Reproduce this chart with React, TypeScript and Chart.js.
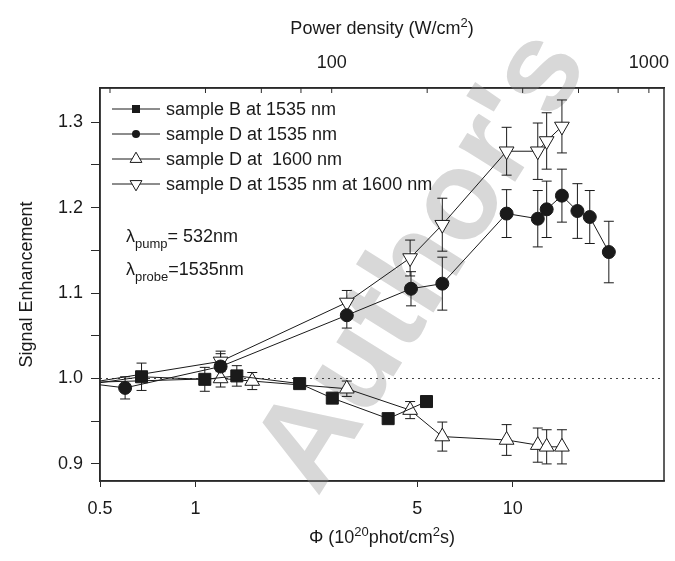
import React, { useEffect, useRef } from "react";
import { Chart, registerables } from "chart.js";

Chart.register(...registerables);

const FONT = '"Liberation Sans", Arial, Helvetica, sans-serif';
const INK = "#1a1a1a";
const FRAME = "#2a2a2a";

// ---- axes ----
const X_MIN = 0.5;
const X_MAX = 30;
const X_TICKS = [0.5, 1, 5, 10];
const X_TICK_LABELS = ["0.5", "1", "5", "10"];

// top axis: power density (W/cm^2) = PHI_TO_POWER * phi
const PHI_TO_POWER = 37.2;
const TOP_TICKS = [20, 40, 60, 80, 100, 200, 400, 600, 800, 1000];
const TOP_TICK_LABELS = ["", "", "", "", "100", "", "", "", "", "1000"];

const Y_MIN = 0.88;
const Y_MAX = 1.34;
const Y_TICKS = [0.9, 0.95, 1.0, 1.05, 1.1, 1.15, 1.2, 1.25, 1.3];
const Y_TICK_LABELS = ["0.9", "", "1.0", "", "1.1", "", "1.2", "", "1.3"];
const REFERENCE_LEVEL = 1.0;

// ---- data (first point of each series lies just left of the visible range) ----
const sampleB_phi = [0.42, 0.676, 1.07, 1.35, 2.13, 2.7, 4.05, 5.35];
const sampleB_signal = [0.991, 1.002, 0.999, 1.003, 0.994, 0.977, 0.953, 0.973];
const sampleB_err = [0, 0.016, 0.014, 0.012, 0, 0, 0, 0];

const sampleD1535_phi = [0.42, 0.6, 1.2, 3.0, 4.78, 6.0, 9.57, 12.0, 12.8, 14.3, 16.0, 17.5, 20.1];
const sampleD1535_signal = [0.996, 0.989, 1.014, 1.074, 1.105, 1.111, 1.193, 1.187, 1.198, 1.214, 1.196, 1.189, 1.148];
const sampleD1535_err = [0, 0.013, 0.015, 0.015, 0.02, 0.031, 0.028, 0.033, 0.033, 0.031, 0.032, 0.031, 0.036];

const sampleD1600_phi = [0.42, 1.2, 1.51, 3.0, 4.75, 6.0, 9.57, 12.0, 12.8, 14.3];
const sampleD1600_signal = [0.995, 1.0, 0.997, 0.988, 0.963, 0.932, 0.928, 0.922, 0.92, 0.92];
const sampleD1600_err = [0, 0.01, 0.01, 0.009, 0.01, 0.017, 0.018, 0.02, 0.02, 0.02];

const sampleD1535at1600_phi = [0.42, 1.2, 3.0, 4.75, 6.0, 9.57, 12.0, 12.8, 14.3];
const sampleD1535at1600_signal = [0.9925, 1.02, 1.089, 1.141, 1.18, 1.266, 1.266, 1.278, 1.295];
const sampleD1535at1600_err = [0, 0.012, 0.014, 0.021, 0.031, 0.028, 0.033, 0.033, 0.031];

const LEGEND_LABELS = [
  "sample B at 1535 nm",
  "sample D at 1535 nm",
  "sample D at  1600 nm",
  "sample D at 1535 nm at 1600 nm",
];

type Marker = "square" | "circle" | "up" | "down";

const SERIES: { phi: number[]; signal: number[]; err: number[]; marker: Marker; label: string }[] = [
  { phi: sampleB_phi, signal: sampleB_signal, err: sampleB_err, marker: "square", label: LEGEND_LABELS[0] },
  { phi: sampleD1535_phi, signal: sampleD1535_signal, err: sampleD1535_err, marker: "circle", label: LEGEND_LABELS[1] },
  { phi: sampleD1600_phi, signal: sampleD1600_signal, err: sampleD1600_err, marker: "up", label: LEGEND_LABELS[2] },
  { phi: sampleD1535at1600_phi, signal: sampleD1535at1600_signal, err: sampleD1535at1600_err, marker: "down", label: LEGEND_LABELS[3] },
];

type Part = { t: string; sup?: boolean; sub?: boolean };

function drawRich(ctx: CanvasRenderingContext2D, parts: Part[], x: number, cy: number, size: number, align: "left" | "center") {
  const main = `${size}px ${FONT}`;
  const small = `${Math.round(size * 0.7)}px ${FONT}`;
  let total = 0;
  const widths = parts.map((p) => {
    ctx.font = p.sup || p.sub ? small : main;
    const w = ctx.measureText(p.t).width;
    total += w;
    return w;
  });
  let cx = align === "center" ? x - total / 2 : x;
  const base = cy + size * 0.36;
  ctx.textAlign = "left";
  ctx.textBaseline = "alphabetic";
  parts.forEach((p, i) => {
    ctx.font = p.sup || p.sub ? small : main;
    const dy = p.sup ? -size * 0.4 : p.sub ? size * 0.32 : 0;
    ctx.fillText(p.t, cx, base + dy);
    cx += widths[i];
  });
}

function drawMarker(ctx: CanvasRenderingContext2D, m: Marker, x: number, y: number, s: number) {
  ctx.beginPath();
  if (m === "square") {
    ctx.rect(x - s * 0.5, y - s * 0.5, s, s);
    ctx.fillStyle = INK;
    ctx.fill();
  } else if (m === "circle") {
    ctx.arc(x, y, s * 0.5, 0, Math.PI * 2);
    ctx.fillStyle = INK;
    ctx.fill();
  } else {
    const r = s * 0.62;
    const dir = m === "up" ? -1 : 1;
    ctx.moveTo(x, y + dir * r);
    ctx.lineTo(x + r * 0.866, y - dir * r * 0.5);
    ctx.lineTo(x - r * 0.866, y - dir * r * 0.5);
    ctx.closePath();
    ctx.fillStyle = "#fff";
    ctx.fill();
    ctx.strokeStyle = INK;
    ctx.lineWidth = 1;
    ctx.stroke();
  }
}

const decorations = {
  id: "decorations",
  beforeDatasetsDraw(chart: any) {
    const { ctx, chartArea: a, scales } = chart;
    const xs = scales.x;
    const ys = scales.y;
    ctx.save();
    // watermark
    ctx.save();
    ctx.translate(424, 262);
    ctx.rotate((-58 * Math.PI) / 180);
    ctx.font = `bold 126px ${FONT}`;
    ctx.fillStyle = "#d8d8d8";
    ctx.textAlign = "center";
    ctx.textBaseline = "middle";
    ctx.fillText("Author's", 0, 0);
    ctx.restore();

    // dotted reference line
    const yr = ys.getPixelForValue(REFERENCE_LEVEL);
    ctx.beginPath();
    ctx.setLineDash([2, 4]);
    ctx.strokeStyle = "#444";
    ctx.lineWidth = 1.2;
    ctx.moveTo(a.left, yr);
    ctx.lineTo(a.right, yr);
    ctx.stroke();
    ctx.setLineDash([]);

    // error bars
    ctx.beginPath();
    ctx.rect(a.left, a.top, a.right - a.left, a.bottom - a.top);
    ctx.clip();
    ctx.beginPath();
    ctx.strokeStyle = INK;
    ctx.lineWidth = 1;
    SERIES.forEach((s, i) => {
      const meta = chart.getDatasetMeta(i);
      if (meta.hidden) return;
      s.err.forEach((e, j) => {
        if (!e) return;
        const px = xs.getPixelForValue(s.phi[j]);
        const top = ys.getPixelForValue(s.signal[j] + e);
        const bot = ys.getPixelForValue(s.signal[j] - e);
        ctx.moveTo(px, top);
        ctx.lineTo(px, bot);
        ctx.moveTo(px - 5, top);
        ctx.lineTo(px + 5, top);
        ctx.moveTo(px - 5, bot);
        ctx.lineTo(px + 5, bot);
      });
    });
    ctx.stroke();
    ctx.restore();
  },
  afterDraw(chart: any) {
    const { ctx, chartArea: a, scales } = chart;
    const top = scales.x2;
    ctx.save();
    // frame
    ctx.strokeStyle = FRAME;
    ctx.lineWidth = 1.5;
    ctx.strokeRect(a.left, a.top, a.right - a.left, a.bottom - a.top);
    // top axis inward ticks
    ctx.beginPath();
    ctx.lineWidth = 1;
    TOP_TICKS.forEach((v) => {
      const px = top.getPixelForValue(v);
      ctx.moveTo(px, a.top);
      ctx.lineTo(px, a.top + 5);
    });
    ctx.stroke();

    ctx.fillStyle = INK;
    // axis titles
    drawRich(ctx, [{ t: "Power density (W/cm" }, { t: "2", sup: true }, { t: ")" }], (a.left + a.right) / 2, 28, 18, "center");
    drawRich(
      ctx,
      [{ t: "\u03A6 (10" }, { t: "20", sup: true }, { t: "phot/cm" }, { t: "2", sup: true }, { t: "s)" }],
      (a.left + a.right) / 2,
      537,
      18,
      "center"
    );

    // legend
    SERIES.forEach((s, i) => {
      const y = 109 + i * 25;
      ctx.beginPath();
      ctx.strokeStyle = INK;
      ctx.lineWidth = 1;
      ctx.moveTo(112, y);
      ctx.lineTo(160, y);
      ctx.stroke();
      drawMarker(ctx, s.marker, 136, y, s.marker === "up" || s.marker === "down" ? 11 : 8);
      ctx.fillStyle = INK;
      ctx.font = `18px ${FONT}`;
      ctx.textAlign = "left";
      ctx.textBaseline = "middle";
      ctx.fillText(s.label, 166, y + 1);
    });

    // annotations
    ctx.fillStyle = INK;
    drawRich(ctx, [{ t: "\u03BB" }, { t: "pump", sub: true }, { t: "= 532nm" }], 126, 236, 18, "left");
    drawRich(ctx, [{ t: "\u03BB" }, { t: "probe", sub: true }, { t: "=1535nm" }], 126, 269, 18, "left");
    ctx.restore();
  },
};

const POINT_SIZE: Record<Marker, number> = { square: 8.5, circle: 6.5, up: 8.5, down: 8.5 };

function noLabelPadding(s: any) {
  s.paddingLeft = 0;
  s.paddingRight = 0;
  s.paddingTop = 0;
  s.paddingBottom = 0;
}

export default function App() {
  const ref = useRef<HTMLCanvasElement | null>(null);

  useEffect(() => {
    document.body.style.margin = "0";
    const canvas = ref.current;
    if (!canvas) return;
    Chart.defaults.font.family = FONT;
    Chart.defaults.color = INK;

    const datasets = SERIES.map((s) => {
      const filled = s.marker === "square" || s.marker === "circle";
      return {
        label: s.label,
        data: s.phi.map((x, j) => ({ x, y: s.signal[j] })),
        showLine: true,
        borderColor: INK,
        borderWidth: 1,
        backgroundColor: filled ? INK : "#ffffff",
        pointStyle: s.marker === "square" ? "rect" : s.marker === "circle" ? "circle" : "triangle",
        pointRotation: s.marker === "down" ? 180 : 0,
        pointRadius: (c: any) => (c.dataIndex === 0 ? 0 : POINT_SIZE[s.marker]),
        pointHoverRadius: (c: any) => (c.dataIndex === 0 ? 0 : POINT_SIZE[s.marker]),
        pointBackgroundColor: filled ? INK : "#ffffff",
        pointBorderColor: INK,
        pointBorderWidth: 1,
        tension: 0,
      };
    });

    const chart = new Chart(canvas, {
      type: "scatter",
      data: { datasets: datasets as any },
      plugins: [decorations],
      options: {
        animation: false,
        responsive: false,
        devicePixelRatio: 1,
        layout: { padding: { left: 0, right: 11, top: 0, bottom: 0 } },
        plugins: { legend: { display: false }, tooltip: { enabled: false } },
        scales: {
          x: {
            type: "logarithmic",
            position: "bottom",
            min: X_MIN,
            max: X_MAX,
            afterBuildTicks: (s: any) => {
              s.ticks = X_TICKS.map((v) => ({ value: v }));
            },
            afterFit: (s: any) => {
              s.height = 80;
              noLabelPadding(s);
            },
            ticks: {
              autoSkip: false,
              maxRotation: 0,
              padding: 11,
              color: INK,
              font: { family: FONT, size: 18 },
              callback: (_v: any, i: number) => X_TICK_LABELS[i],
            },
            grid: { display: true, drawOnChartArea: false, drawTicks: true, tickLength: 6, color: FRAME, lineWidth: 1 },
            border: { display: true, color: FRAME, width: 1.5 },
          },
          x2: {
            type: "logarithmic",
            position: "top",
            min: X_MIN * PHI_TO_POWER,
            max: X_MAX * PHI_TO_POWER,
            afterBuildTicks: (s: any) => {
              s.ticks = TOP_TICKS.map((v) => ({ value: v }));
            },
            afterFit: (s: any) => {
              s.height = 88;
              noLabelPadding(s);
            },
            ticks: {
              autoSkip: false,
              maxRotation: 0,
              padding: 14,
              color: INK,
              font: { family: FONT, size: 18 },
              callback: (_v: any, i: number) => TOP_TICK_LABELS[i],
            },
            grid: { display: false, drawTicks: false },
            border: { display: true, color: FRAME, width: 1.5 },
          },
          y: {
            type: "linear",
            position: "left",
            min: Y_MIN,
            max: Y_MAX,
            afterBuildTicks: (s: any) => {
              s.ticks = Y_TICKS.map((v) => ({ value: v }));
            },
            afterFit: (s: any) => {
              s.width = 100;
              noLabelPadding(s);
            },
            ticks: {
              autoSkip: false,
              padding: 8,
              color: INK,
              font: { family: FONT, size: 18 },
              callback: (_v: any, i: number) => Y_TICK_LABELS[i],
            },
            title: {
              display: true,
              text: "Signal Enhancement",
              color: INK,
              font: { family: FONT, size: 18 },
              padding: { top: 16, bottom: 0 },
            },
            grid: { display: true, drawOnChartArea: false, drawTicks: true, tickLength: 9, color: FRAME, lineWidth: 1 },
            border: { display: true, color: FRAME, width: 1.5 },
          },
        },
      },
    });
    return () => chart.destroy();
  }, []);

  return (
    <div style={{ width: 675, height: 561 }}>
      <canvas ref={ref} width={675} height={561} style={{ display: "block" }} />
    </div>
  );
}
